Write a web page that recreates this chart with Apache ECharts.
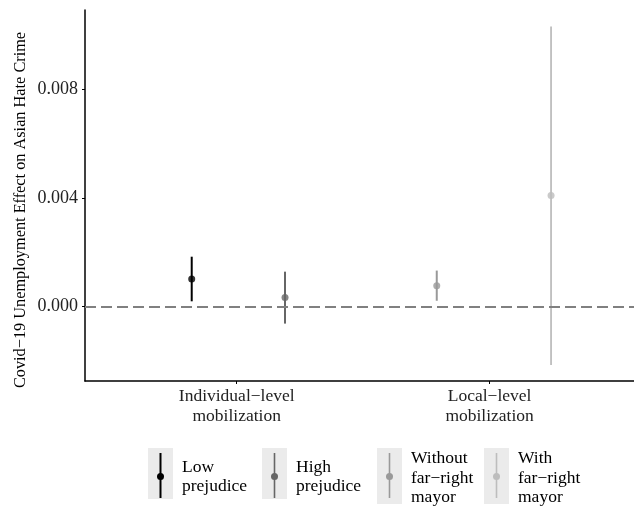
<!DOCTYPE html>
<html>
<head>
<meta charset="utf-8">
<script src="https://cdn.jsdelivr.net/npm/echarts@6/dist/echarts.min.js"></script>
<style>
  html, body { margin: 0; padding: 0; background: #fff; }
  #chart { width: 634px; height: 509px; }
</style>
</head>
<body>
<div id="chart"></div>
<script>
// 分组（x轴）
const groups = ['Individual\u2212level\nmobilization', 'Local\u2212level\nmobilization'];
const groupPos = [1, 2];

// 四个估计值：位置、点估计、置信区间
const names = ['Low\nprejudice', 'High\nprejudice', 'Without\nfar\u2212right\nmayor', 'With\nfar\u2212right\nmayor'];
const colors = ['#000000', '#666666', '#999999', '#bdbdbd'];
const xPos = [0.822, 1.191, 1.791, 2.243];
const estimate = [0.00102, 0.00034, 0.00077, 0.00409];
const lower = [0.00020, -0.00062, 0.00022, -0.00214];
const upper = [0.00184, 0.00129, 0.00133, 0.01030];

// y轴刻度
const yTicks = [0, 0.004, 0.008];

const FONT = '"Liberation Serif", "DejaVu Serif", serif';

const chart = echarts.init(document.getElementById('chart'));

// 误差线
const barSeries = names.map((n, i) => ({
    name: n,
    type: 'custom',
    renderItem: function (params, api) {
        const top = api.coord([api.value(0), api.value(2)]);
        const bot = api.coord([api.value(0), api.value(1)]);
        return {
            type: 'line',
            shape: { x1: top[0], y1: top[1], x2: bot[0], y2: bot[1] },
            style: { stroke: colors[i], lineWidth: i === 3 ? 1.8 : 2 }
        };
    },
    data: [[xPos[i], lower[i], upper[i]]],
    z: 3,
    silent: true
}));

// 点估计
const pointSeries = names.map((n, i) => ({
    name: n + '_pt',
    type: 'scatter',
    symbol: 'circle',
    symbolSize: 7,
    itemStyle: { color: colors[i] },
    data: [[xPos[i], estimate[i]]],
    z: 4,
    silent: true
}));

// 图例（手动绘制，带灰色背景）
const legendKeyX = [148, 262, 377, 484];
const legendGraphics = [];
names.forEach((n, i) => {
    const lines = n.split('\n').length;
    const h = lines === 2 ? 51 : 56;
    const x = legendKeyX[i];
    const y = 448;
    legendGraphics.push({
        type: 'rect',
        shape: { x: x, y: y, width: 25, height: h },
        style: { fill: '#ebebeb' }
    });
    legendGraphics.push({
        type: 'line',
        shape: { x1: x + 12.5, y1: y + 5, x2: x + 12.5, y2: y + 50 },
        style: { stroke: colors[i], lineWidth: i === 0 ? 2 : 1.6 }
    });
    legendGraphics.push({
        type: 'circle',
        shape: { cx: x + 12.5, cy: y + 28.5, r: 3.5 },
        style: { fill: colors[i] }
    });
    legendGraphics.push({
        type: 'text',
        x: x + 34,
        y: y + (lines === 2 ? 29 : 30),
        style: {
            text: n,
            font: '17.5px ' + FONT,
            fill: '#000',
            lineHeight: 19.5,
            textVerticalAlign: 'middle',
            textAlign: 'left'
        }
    });
});

const option = {
    backgroundColor: '#fff',
    animation: false,
    grid: { left: 85, top: 10, right: 0, bottom: 128, containLabel: false },
    xAxis: {
        type: 'value',
        min: 0.4,
        max: 2.571,
        splitLine: { show: false },
        axisLine: { show: true, onZero: false, lineStyle: { color: '#000', width: 1.5 } },
        axisTick: { show: true, length: 3, lineStyle: { color: '#000', width: 1 }, customValues: groupPos },
        axisLabel: {
            customValues: groupPos,
            formatter: v => groups[groupPos.indexOf(v)] || '',
            margin: 5,
            fontFamily: FONT,
            fontSize: 17.5,
            lineHeight: 20,
            color: '#222',
            align: 'center'
        }
    },
    yAxis: {
        type: 'value',
        min: -0.00273,
        max: 0.01091,
        splitLine: { show: false },
        axisLine: { show: true, lineStyle: { color: '#000', width: 1.5 } },
        axisTick: { show: true, length: 3, lineStyle: { color: '#000', width: 1 }, customValues: yTicks },
        axisLabel: {
            customValues: yTicks,
            formatter: v => v.toFixed(3),
            margin: 7,
            fontFamily: FONT,
            fontSize: 18,
            color: '#222'
        }
    },
    graphic: [
        {
            type: 'text',
            x: 21,
            y: 210,
            rotation: Math.PI / 2,
            style: {
                text: 'Covid\u221219 Unemployment Effect on Asian Hate Crime',
                font: '16.3px ' + FONT,
                fill: '#000',
                textAlign: 'center',
                textVerticalAlign: 'middle'
            }
        }
    ].concat(legendGraphics),
    series: [
        {
            name: 'zero',
            type: 'line',
            data: [],
            markLine: {
                silent: true,
                symbol: 'none',
                label: { show: false },
                lineStyle: { color: '#808080', width: 1.8, type: [11, 5] },
                data: [{ yAxis: 0 }]
            }
        }
    ].concat(barSeries, pointSeries)
};

chart.setOption(option);
</script>
</body>
</html>
